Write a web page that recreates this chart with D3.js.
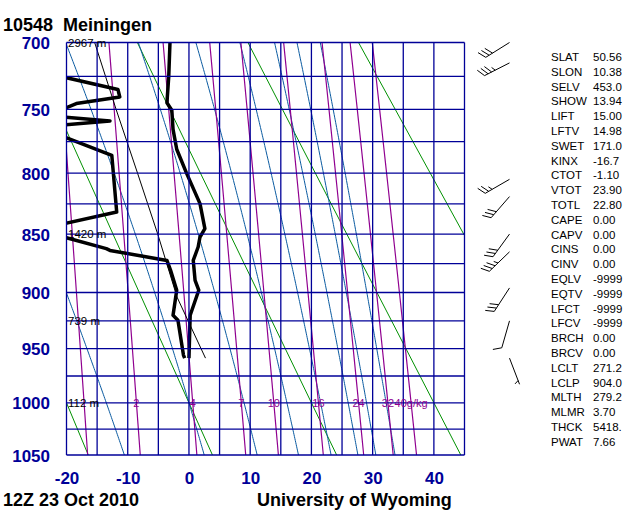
<!DOCTYPE html>
<html><head><meta charset="utf-8">
<script src="https://cdn.jsdelivr.net/npm/d3@7"></script>
<style>
body{margin:0;background:#fff}
svg{display:block}
text{font-family:"Liberation Sans",Arial,Helvetica,sans-serif}
</style>
</head><body>
<svg id="c" width="640" height="512"></svg>
<script>
// ---------- data ----------
const stationTitle = "10548  Meiningen";
const timeLabel = "12Z 23 Oct 2010";
const sourceLabel = "University of Wyoming";

const isobars = [700,725,750,775,800,825,850,875,900,925,950,975,1000,1025,1050];
const pressureTicks = [700,750,800,850,900,950,1000,1050];
const isotherms = [-20,-15,-10,-5,0,5,10,15,20,25,30,35,40,45];
const tempTicks = [-20,-10,0,10,20,30,40];

const dryTheta = [253.15,273.15,293.15,313.15,333.15];          // K
const moistT1000 = [-13.5,0,9,16,21.5,26,29,32.2];             // deg C at 1000 hPa
const mixRatios = [1,2,4,7,10,16,24,32,40];                     // g/kg
const mixLabels = ["","2","4","7","10","16","24","32","40g/kg"];

// temperature profile (hPa, deg C)
const tempP = [700,725,745,750.7,765.5,781,800,824.8,845.4,852.5,860.9,872.3,889.4,898,920,958.6];
const tempT = [-3.1,-3.3,-3.6,-2.8,-2.6,-2.0,-0.4,1.8,2.6,1.8,1.5,0.7,1.0,1.6,0.2,0.0];
// dewpoint profile (hPa, deg C)
const dewP = [700,725,734.9,740.5,745.6,750.7,755.8,758.9,762.3,771.4,785.8,831.7,841.3,852.5,862.3,863.8,872.3,880.8,898,920,924.4,955.8,958.6];
const dewT = [-32,-21,-11.6,-11.3,-18.4,-21,-21,-12.9,-21,-20.4,-12.6,-11.8,-20.4,-20.4,-13.5,-12.9,-3.6,-3.0,-2.0,-2.6,-1.8,-0.9,-0.7];
// lifted parcel path (hPa, deg C)
const parcelP = [958.6,904,850,800,750,700];
const parcelT = [2.7,-1.95,-5.1,-8.4,-11.9,-15.4];

// height labels
const heightP = [700,850,925,1000];
const heightLabel = ["2967 m","1420 m","739 m","112 m"];

// wind barbs
const barbP = [700,715,805,819,850,865,896,925,958.6];
const barbDir = [238,243,240,221,216,226,213,196,159];
const barbSpd = [30,35,25,30,30,35,30,10,5];

// station indices
const statNames = ["SLAT","SLON","SELV","SHOW","LIFT","LFTV","SWET","KINX","CTOT","VTOT","TOTL","CAPE","CAPV","CINS","CINV","EQLV","EQTV","LFCT","LFCV","BRCH","BRCV","LCLT","LCLP","MLTH","MLMR","THCK","PWAT"];
const statValues = ["50.56","10.38","453.0","13.94","15.00","14.98","171.0","-16.7","-1.10","23.90","22.80","0.00","0.00","0.00","0.00","-9999","-9999","-9999","-9999","0.00","0.00","271.2","904.0","279.2","3.70","5418.","7.66"];

// ---------- scales ----------
const svg = d3.select("#c");
const x = d3.scaleLinear().domain([-20,45]).range([66.5,464.5]);
const y = d3.scalePow().exponent(0.286).domain([700,1050]).range([42.5,455]);
const X0 = x(-20), X1 = x(45), Y0 = y(700), Y1 = y(1050);

const NAVY = "#000098", GREEN = "#009000", BLUE = "#0a5aa0", PURPLE = "#900090";

svg.append("rect").attr("width",640).attr("height",512).attr("fill","#fff");
svg.append("clipPath").attr("id","plot").append("rect")
  .attr("x",X0).attr("y",Y0).attr("width",X1-X0).attr("height",Y1-Y0);

const plot = svg.append("g").attr("clip-path","url(#plot)");
const line = d3.line().x(d=>x(d[1])).y(d=>y(d[0]));

// dry adiabats
dryTheta.forEach(th=>{
  const pts = [700,1050].map(p=>[p, th*Math.pow(p/1000,0.286)-273.15]);
  plot.append("path").attr("d",line(pts)).attr("fill","none").attr("stroke",GREEN).attr("stroke-width",1);
});

// moist adiabats (pseudo-adiabatic integration)
function dTdlnp(T,p){
  const es = 6.112*Math.exp(17.67*(T-273.15)/(T-29.65));
  const rs = 0.622*es/(p-es);
  const L = 2.501e6;
  return (287*T + L*rs)/(1005 + L*L*rs*0.622/(287*T*T));
}
function step(T,p,np){
  const h=Math.log(np/p), pm=Math.sqrt(p*np);
  const k1=dTdlnp(T,p), k2=dTdlnp(T+h*k1/2,pm);
  const k3=dTdlnp(T+h*k2/2,pm), k4=dTdlnp(T+h*k3,np);
  return T + h*(k1+2*k2+2*k3+k4)/6;
}
function moistPath(T1000){
  const up=[], down=[];
  let T=T1000+273.15, p=1000;
  up.push([p,T-273.15]);
  while(p>690){ T=step(T,p,p-2); p-=2; up.push([p,T-273.15]); }
  T=T1000+273.15; p=1000;
  while(p<1055){ T=step(T,p,p+2); p+=2; down.push([p,T-273.15]); }
  return up.reverse().concat(down);
}
moistT1000.forEach(t=>{
  plot.append("path").attr("d",line(moistPath(t))).attr("fill","none").attr("stroke",BLUE).attr("stroke-width",1);
});

// mixing ratio lines
function tdFromW(w,p){
  const e = w*p/(622+w);
  const l = Math.log(e/6.112);
  return 243.5*l/(17.67-l);
}
mixRatios.forEach(w=>{
  const pts = d3.range(700,1051,10).map(p=>[p,tdFromW(w,p)]);
  plot.append("path").attr("d",line(pts)).attr("fill","none").attr("stroke",PURPLE).attr("stroke-width",1.2);
});

// grid
isobars.forEach(p=>{
  svg.append("line").attr("x1",X0).attr("x2",X1).attr("y1",y(p)).attr("y2",y(p))
    .attr("stroke",NAVY).attr("stroke-width",1.3);
});
isotherms.forEach(t=>{
  svg.append("line").attr("x1",x(t)).attr("x2",x(t)).attr("y1",Y0).attr("y2",Y1)
    .attr("stroke",NAVY).attr("stroke-width",1.3);
});

// mixing ratio labels
mixRatios.forEach((w,i)=>{
  if(!mixLabels[i]) return;
  svg.append("text").attr("x",x(tdFromW(w,1000))).attr("y",y(1000)+4)
    .attr("text-anchor","middle").attr("font-size",11).attr("fill",PURPLE).text(mixLabels[i]);
});

// height labels
heightP.forEach((p,i)=>{
  svg.append("text").attr("x",68).attr("y",y(p)+4).attr("font-size",11.5).attr("fill","#000").text(heightLabel[i]);
});

// parcel path
plot.append("path").attr("d",line(parcelP.map((p,i)=>[p,parcelT[i]])))
  .attr("fill","none").attr("stroke","#000").attr("stroke-width",1);
// dewpoint & temperature
plot.append("path").attr("d",line(dewP.map((p,i)=>[p,dewT[i]])))
  .attr("fill","none").attr("stroke","#000").attr("stroke-width",3.5).attr("stroke-linejoin","round");
plot.append("path").attr("d",line(tempP.map((p,i)=>[p,tempT[i]])))
  .attr("fill","none").attr("stroke","#000").attr("stroke-width",3.5).attr("stroke-linejoin","round");

// axes labels
const yAxis = d3.axisLeft(y).tickValues(pressureTicks).tickSize(0).tickPadding(0).tickFormat(d=>String(d));
const gy = svg.append("g").attr("transform",`translate(${50},0)`).call(yAxis);
gy.select(".domain").remove();
gy.selectAll("text").attr("font-size",17).attr("font-weight","bold").attr("fill",NAVY)
  .attr("font-family","\"Liberation Sans\",Arial,sans-serif").attr("dy","0.36em");

const xAxis = d3.axisBottom(x).tickValues(tempTicks).tickSize(0).tickPadding(0).tickFormat(d=>d<0?"-"+Math.abs(d):String(d));
const gx = svg.append("g").attr("transform",`translate(0,${470})`).call(xAxis);
gx.select(".domain").remove();
gx.selectAll("text").attr("font-size",17).attr("font-weight","bold").attr("fill",NAVY)
  .attr("font-family","\"Liberation Sans\",Arial,sans-serif").attr("dy","0.8em");

// titles
svg.append("text").attr("x",3).attr("y",31).attr("font-size",18).attr("font-weight","bold")
  .attr("xml:space","preserve").style("white-space","pre").text(stationTitle);
svg.append("text").attr("x",3).attr("y",506).attr("font-size",18).attr("font-weight","bold").text(timeLabel);
svg.append("text").attr("x",257).attr("y",506).attr("font-size",18).attr("font-weight","bold").text(sourceLabel);

// wind barbs
const BX = 509.5, STAFF = 28;
barbP.forEach((p,i)=>{
  const a = barbDir[i]*Math.PI/180;
  const ux = Math.sin(a), uy = -Math.cos(a);
  const rx = -uy, ry = ux;
  const sy = y(p);
  const g = svg.append("g").attr("stroke","#000").attr("stroke-width",1).attr("fill","none");
  const tx = BX+ux*STAFF, ty = sy+uy*STAFF;
  g.append("line").attr("x1",BX).attr("y1",sy).attr("x2",tx).attr("y2",ty);
  let s = barbSpd[i], pos = STAFF;
  const FL = 9, GAP = 4;
  const fx = rx*0.9+ux*0.45, fy = ry*0.9+uy*0.45;
  const full = Math.floor(s/10); const half = (s%10)>=5;
  for(let k=0;k<full;k++){
    const bx = BX+ux*pos, by = sy+uy*pos;
    g.append("line").attr("x1",bx).attr("y1",by).attr("x2",bx+FL*fx).attr("y2",by+FL*fy);
    pos -= GAP;
  }
  if(half){
    if(full===0) pos -= GAP;
    const bx = BX+ux*pos, by = sy+uy*pos;
    g.append("line").attr("x1",bx).attr("y1",by).attr("x2",bx+FL*0.5*fx).attr("y2",by+FL*0.5*fy);
  }
});

// station indices
statNames.forEach((n,i)=>{
  const yy = 61 + i*14.8;
  svg.append("text").attr("x",551).attr("y",yy).attr("font-size",11.5).attr("fill","#000").text(n);
  svg.append("text").attr("x",593).attr("y",yy).attr("font-size",11.5).attr("fill","#000").text(statValues[i]);
});
</script>
</body></html>
